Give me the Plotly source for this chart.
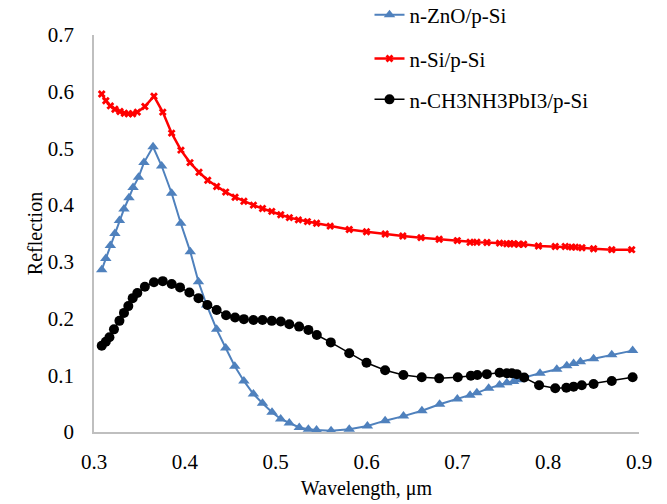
import plotly.graph_objects as go

# ---- data ----
zno_x = [0.3085, 0.313, 0.318, 0.323, 0.328, 0.333, 0.3385, 0.343, 0.349, 0.355, 0.365,
         0.3745, 0.3855, 0.3955, 0.406, 0.415, 0.424, 0.435, 0.445, 0.455, 0.465, 0.4755,
         0.4855, 0.496, 0.5055, 0.515, 0.526, 0.536, 0.545, 0.561, 0.581, 0.601, 0.6205,
         0.6407, 0.661, 0.6805, 0.700, 0.714, 0.7215, 0.7345, 0.7465, 0.7545, 0.762,
         0.7674, 0.771, 0.791, 0.8095, 0.8205, 0.828, 0.8355, 0.85, 0.870, 0.893]
zno_y = [0.286, 0.306, 0.329, 0.350, 0.373, 0.393, 0.413, 0.431, 0.449, 0.475, 0.503,
         0.469, 0.421, 0.368, 0.318, 0.265, 0.224, 0.181, 0.148, 0.116, 0.090, 0.067,
         0.0506, 0.035, 0.023, 0.016, 0.008, 0.005, 0.0035, 0.0023, 0.005, 0.0106, 0.020,
         0.028, 0.0376, 0.049, 0.058, 0.065, 0.069, 0.077, 0.083, 0.087, 0.089,
         0.092, 0.095, 0.1035, 0.1105, 0.117, 0.121, 0.124, 0.129, 0.136, 0.1435]

si_x = [0.3085, 0.313, 0.318, 0.323, 0.3286, 0.3334, 0.3378, 0.3426, 0.3477, 0.356, 0.366,
        0.3757, 0.3855, 0.3957, 0.4057, 0.4156, 0.4252, 0.435, 0.445, 0.4553, 0.465,
        0.4755, 0.4855, 0.4957, 0.5056, 0.5151, 0.525, 0.535, 0.545, 0.560, 0.581, 0.600,
        0.6206, 0.640, 0.660, 0.680, 0.700, 0.714, 0.7215, 0.7326, 0.7465, 0.7545, 0.7582,
        0.762, 0.7674, 0.773, 0.7893, 0.8078, 0.8188, 0.8262, 0.8298, 0.8372, 0.850,
        0.870, 0.892]
si_y = [0.596, 0.584, 0.575, 0.569, 0.565, 0.562, 0.561, 0.561, 0.564, 0.574, 0.592,
        0.564, 0.527, 0.497, 0.475, 0.458, 0.444, 0.433, 0.423, 0.414, 0.407,
        0.400, 0.394, 0.389, 0.383, 0.378, 0.374, 0.371, 0.368, 0.363, 0.357, 0.353,
        0.349, 0.3457, 0.3427, 0.340, 0.3375, 0.3345, 0.3345, 0.334, 0.333, 0.332, 0.332,
        0.332, 0.331, 0.331, 0.328, 0.327, 0.327, 0.326, 0.326, 0.325, 0.323,
        0.3215, 0.3215]

pvk_x = [0.3085, 0.313, 0.317, 0.322, 0.328, 0.333, 0.3378, 0.3426, 0.3477, 0.356, 0.366,
         0.3757, 0.3855, 0.3947, 0.405, 0.415, 0.4248, 0.435, 0.4454, 0.4553, 0.465,
         0.4755, 0.4855, 0.4957, 0.5056, 0.515, 0.5258, 0.536, 0.5453, 0.5607, 0.581,
         0.600, 0.6205, 0.6406, 0.6608, 0.680, 0.7005, 0.7149, 0.722, 0.7325, 0.7465,
         0.7545, 0.760, 0.7655, 0.7736, 0.790, 0.8078, 0.820, 0.828, 0.837, 0.850,
         0.870, 0.893]
pvk_y = [0.152, 0.159, 0.167, 0.181, 0.196, 0.210, 0.222, 0.236, 0.245, 0.256, 0.264,
         0.266, 0.261, 0.255, 0.246, 0.236, 0.224, 0.215, 0.206, 0.202, 0.199,
         0.1975, 0.1975, 0.196, 0.1947, 0.190, 0.1858, 0.180, 0.171, 0.158, 0.139,
         0.122, 0.109, 0.1005, 0.0964, 0.0946, 0.0965, 0.0993, 0.1005, 0.102, 0.1046,
         0.1035, 0.1035, 0.102, 0.096, 0.0824, 0.077, 0.078, 0.080, 0.0824, 0.0847,
         0.090, 0.0965]

names = ["n-ZnO/p-Si", "n-Si/p-Si", "n-CH3NH3PbI3/p-Si"]
x_ticks = [0.3, 0.4, 0.5, 0.6, 0.7, 0.8, 0.9]
x_tick_labels = ["0.3", "0.4", "0.5", "0.6", "0.7", "0.8", "0.9"]
y_ticks = [0, 0.1, 0.2, 0.3, 0.4, 0.5, 0.6, 0.7]
y_tick_labels = ["0", "0.1", "0.2", "0.3", "0.4", "0.5", "0.6", "0.7"]

FONT = "Liberation Serif, Times New Roman, serif"

fig = go.Figure()
fig.add_trace(go.Scatter(x=zno_x, y=zno_y, name=names[0], mode="lines+markers",
                         legend="legend",
                         line=dict(color="#4F81BD", width=2),
                         marker=dict(symbol="triangle-up", size=10, color="#4F81BD")))
fig.add_trace(go.Scatter(x=si_x, y=si_y, name=names[1], mode="lines+markers",
                         legend="legend2",
                         line=dict(color="#FF0000", width=2.5),
                         marker=dict(symbol="x", size=7, color="#FF0000",
                                     line=dict(width=0))))
fig.add_trace(go.Scatter(x=pvk_x, y=pvk_y, name=names[2], mode="lines+markers",
                         legend="legend3",
                         line=dict(color="#000000", width=1.5),
                         marker=dict(symbol="circle", size=10, color="#000000")))

leg_common = dict(x=0.5055, xanchor="left", yanchor="middle",
                  bgcolor="rgba(255,255,255,0)",
                  font=dict(family=FONT, size=21, color="#000000"))

fig.update_layout(
    width=667, height=504,
    margin=dict(l=94, r=28, t=35, b=72, autoexpand=False),
    paper_bgcolor="white", plot_bgcolor="white",
    font=dict(family=FONT, size=21, color="#000000"),
    showlegend=True,
    legend=dict(y=1.05, **leg_common),
    legend2=dict(y=0.94, **leg_common),
    legend3=dict(y=0.837, **leg_common),
    xaxis=dict(range=[0.3, 0.9], tickmode="array", tickvals=x_ticks,
               ticktext=x_tick_labels, showgrid=False, zeroline=False,
               showline=True, linecolor="#BFBFBF", linewidth=1.5,
               ticks="", ticklabelstandoff=10,
               title=dict(text="Wavelength, μm", standoff=8,
                          font=dict(family=FONT, size=20))),
    yaxis=dict(range=[0, 0.7], tickmode="array", tickvals=y_ticks,
               ticktext=y_tick_labels, showgrid=False, zeroline=False,
               showline=True, linecolor="#BFBFBF", linewidth=1.5,
               ticks="", ticklabelstandoff=14,
               title=dict(text="Reflection", standoff=0,
                          font=dict(family=FONT, size=20))),
)

fig.write_html("out.html",
               config={"displayModeBar": False},
               post_script="document.body.style.margin='0';document.body.style.padding='0';")
